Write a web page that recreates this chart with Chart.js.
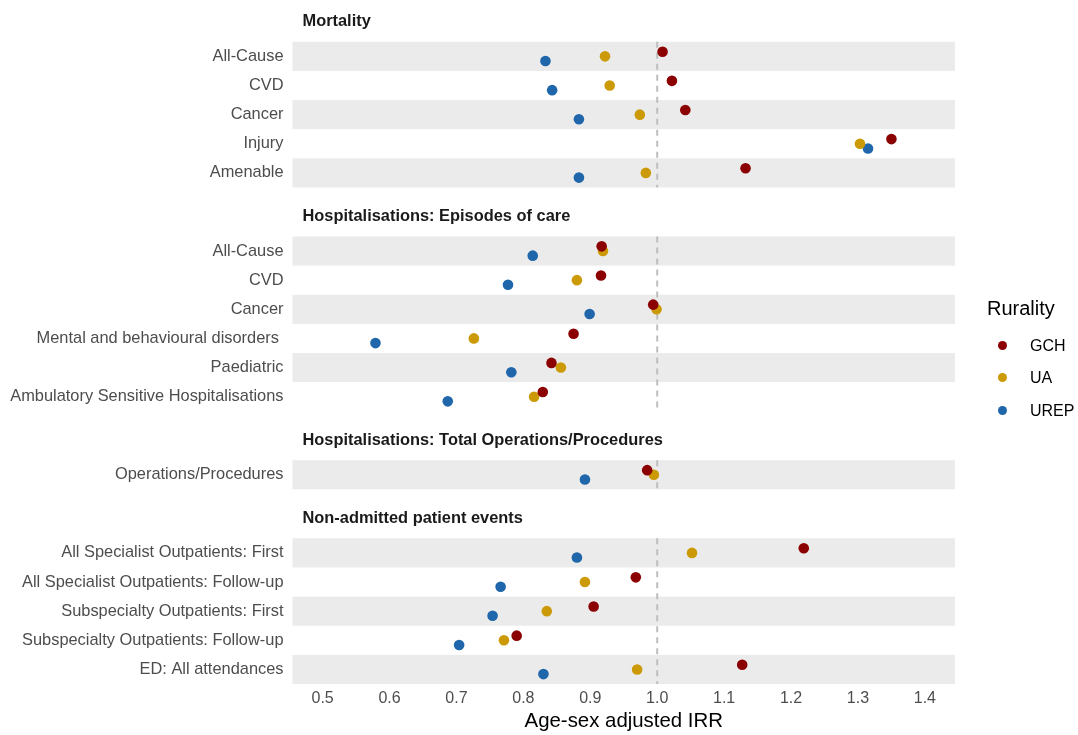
<!DOCTYPE html>
<html>
<head>
<meta charset="utf-8">
<script src="https://cdn.jsdelivr.net/npm/chart.js@4.4.1/dist/chart.umd.min.js"></script>
<style>
  html, body { margin: 0; padding: 0; background: #ffffff; }
  #wrap { position: relative; width: 1078px; height: 735px; font-family: "Liberation Sans", Arial, sans-serif; }
  #chart { position: absolute; left: 0; top: 0; }
  .lg-title { position: absolute; left: 987px; top: 296px; font-size: 20px; color: #000; line-height: 24px; }
  .lg-item { position: absolute; left: 998px; height: 20px; line-height: 20px; font-size: 16px; color: #000; white-space: nowrap; }
  .lg-dot { display: inline-block; width: 9px; height: 9px; border-radius: 50%; vertical-align: middle; margin-right: 23px; position: relative; top: -1px; }
</style>
</head>
<body>
<div id="wrap">
  <canvas id="chart" width="1078" height="735"></canvas>
  <div id="legend"></div>
</div>
<script>
// ---- Data ----
const panels = [
  "Mortality",
  "Hospitalisations: Episodes of care",
  "Hospitalisations: Total Operations/Procedures",
  "Non-admitted patient events"
];
const categories = [
  "All-Cause", "CVD", "Cancer", "Injury", "Amenable",
  "All-Cause", "CVD", "Cancer", "Mental and behavioural disorders ", "Paediatric", "Ambulatory Sensitive Hospitalisations",
  "Operations/Procedures",
  "All Specialist Outpatients: First", "All Specialist Outpatients: Follow-up", "Subspecialty Outpatients: First", "Subspecialty Outpatients: Follow-up", "ED: All attendances"
];
const panelOf = [0,0,0,0,0, 1,1,1,1,1,1, 2, 3,3,3,3,3];
const seriesNames = ["GCH", "UA", "UREP"];
const seriesColors = ["#8B0000", "#CC9A06", "#1F66AA"];
const gch  = [1.008, 1.022, 1.042, 1.350, 1.132,  0.917, 0.916, 0.994, 0.875, 0.842, 0.829,  0.985,  1.219, 0.968, 0.905, 0.790, 1.127];
const ua   = [0.922, 0.929, 0.974, 1.303, 0.983,  0.919, 0.880, 0.999, 0.726, 0.856, 0.816,  0.995,  1.052, 0.892, 0.835, 0.771, 0.970];
const urep = [0.833, 0.843, 0.883, 1.315, 0.883,  0.814, 0.777, 0.899, 0.579, 0.782, 0.687,  0.892,  0.880, 0.766, 0.754, 0.704, 0.830];
const xTicks = [0.5, 0.6, 0.7, 0.8, 0.9, 1.0, 1.1, 1.2, 1.3, 1.4];
const refLine = 1.0;

// ---- Layout of rows (positions only) ----
const GAP = 1.68;
const rowPos = [];
const panelRange = [];
let cursor = 0;
panels.forEach((p, pi) => {
  const idx = categories.map((c, i) => i).filter(i => panelOf[i] === pi);
  const start = cursor;
  idx.forEach((i, k) => { rowPos[i] = start + k; });
  panelRange.push({ start: start, end: start + idx.length - 1 });
  cursor = start + idx.length + GAP;
});
const dodge = [-0.16, 0, 0.16];
const seriesVals = [gch, ua, urep];

const datasets = seriesNames.map((name, s) => ({
  label: name,
  type: 'scatter',
  data: seriesVals[s].map((v, i) => ({ x: v, y: rowPos[i] + dodge[s] })),
  backgroundColor: seriesColors[s],
  borderColor: seriesColors[s],
  borderWidth: 0,
  pointRadius: 5.3,
  pointHoverRadius: 5.3
}));

// ---- Facet decorations ----
const facetPlugin = {
  id: 'facets',
  beforeDatasetsDraw(chart) {
    const { ctx, chartArea, scales } = chart;
    const ys = scales.y, xs = scales.x;
    ctx.save();
    // bands
    ctx.fillStyle = '#EBEBEB';
    panelRange.forEach(r => {
      for (let v = r.start; v <= r.end; v += 2) {
        const t = ys.getPixelForValue(v - 0.5);
        const b = ys.getPixelForValue(v + 0.5);
        ctx.fillRect(chartArea.left, t, chartArea.right - chartArea.left, b - t);
      }
    });
    // reference line per panel
    ctx.strokeStyle = '#BEBEBE';
    ctx.lineWidth = 2;
    ctx.setLineDash([6, 5]);
    const xp = xs.getPixelForValue(refLine);
    panelRange.forEach(r => {
      ctx.beginPath();
      ctx.moveTo(xp, ys.getPixelForValue(r.start - 0.5));
      ctx.lineTo(xp, ys.getPixelForValue(r.end + 0.5));
      ctx.stroke();
    });
    ctx.setLineDash([]);
    // strip titles
    ctx.fillStyle = '#1A1A1A';
    ctx.font = 'bold 16.4px "Liberation Sans", Arial, sans-serif';
    ctx.textAlign = 'left';
    ctx.textBaseline = 'middle';
    panelRange.forEach((r, pi) => {
      const top = ys.getPixelForValue(r.start - 0.5);
      ctx.fillText(panels[pi], chartArea.left + 10, top - 20);
    });
    ctx.restore();
  }
};

Chart.defaults.font.family = '"Liberation Sans", Arial, sans-serif';
Chart.defaults.animation = false;

new Chart(document.getElementById('chart'), {
  type: 'scatter',
  data: { datasets: datasets },
  options: {
    responsive: false,
    animation: false,
    layout: { padding: { left: 10, right: 123, top: 41.8, bottom: 0 } },
    plugins: { legend: { display: false }, tooltip: { enabled: false } },
    scales: {
      x: {
        type: 'linear',
        min: 0.455,
        max: 1.445,
        grid: { display: false, drawTicks: false },
        border: { display: false },
        afterBuildTicks(scale) { scale.ticks = xTicks.map(v => ({ value: v })); },
        afterFit(scale) { scale.height = 51; },
        ticks: {
          color: '#4D4D4D',
          font: { size: 16 },
          padding: 5,
          maxRotation: 0,
          callback: (v) => Number(v).toFixed(1)
        },
        title: {
          display: true,
          text: 'Age-sex adjusted IRR',
          color: '#000000',
          font: { size: 20.4 },
          padding: { top: 0, bottom: 1 }
        }
      },
      y: {
        type: 'linear',
        reverse: true,
        min: -0.5,
        max: panelRange[panelRange.length - 1].end + 0.5,
        grid: { display: false, drawTicks: false },
        border: { display: false },
        afterBuildTicks(scale) { scale.ticks = rowPos.map(v => ({ value: v })); },
        afterFit(scale) { scale.width = 282.5; },
        ticks: {
          color: '#4D4D4D',
          font: { size: 16.4 },
          padding: 9,
          autoSkip: false,
          callback: (v, i) => categories[i]
        }
      }
    }
  },
  plugins: [facetPlugin]
});

// ---- Legend (HTML text) ----
const lg = document.getElementById('legend');
const t = document.createElement('div');
t.className = 'lg-title';
t.textContent = 'Rurality';
lg.appendChild(t);
const itemY = [336, 368, 401];
seriesNames.forEach((n, s) => {
  const d = document.createElement('div');
  d.className = 'lg-item';
  d.style.top = itemY[s] + 'px';
  const dot = document.createElement('span');
  dot.className = 'lg-dot';
  dot.style.background = seriesColors[s];
  d.appendChild(dot);
  d.appendChild(document.createTextNode(n));
  lg.appendChild(d);
});
</script>
</body>
</html>
